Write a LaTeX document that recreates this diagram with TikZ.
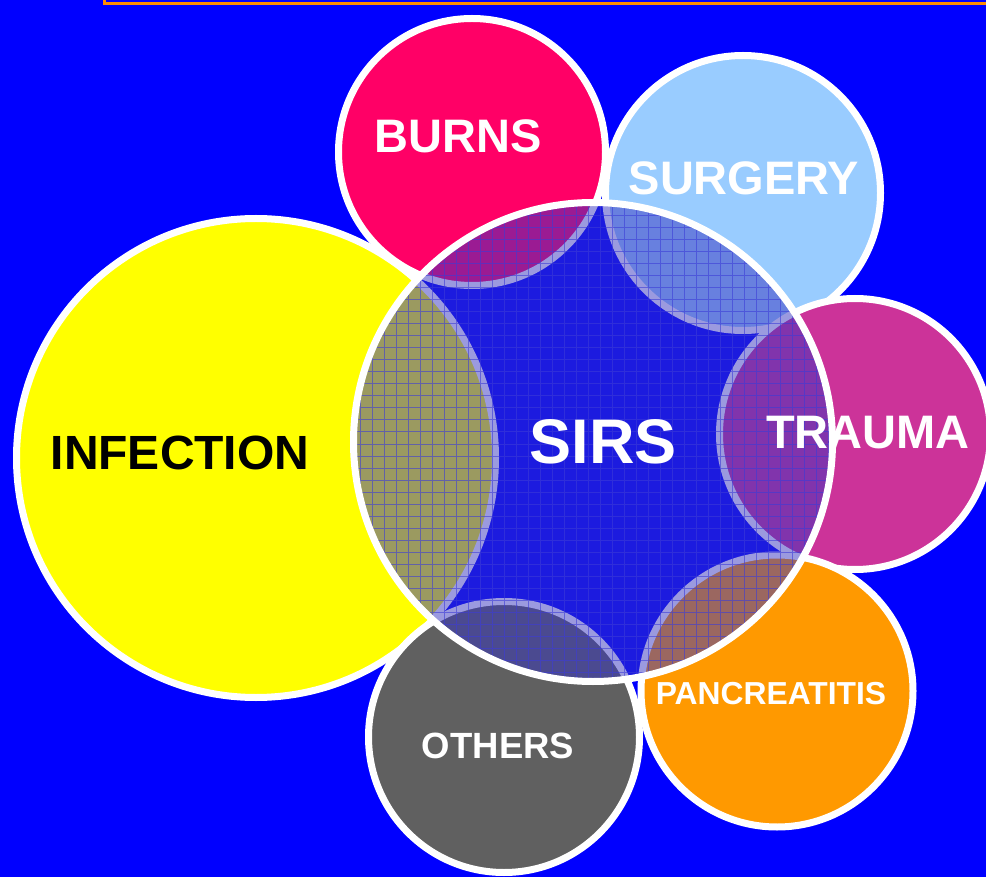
\documentclass[tikz,border=0pt]{standalone}
\usepackage{fontspec}
\setmainfont{Liberation Sans}
\definecolor{bgblue}{RGB}{0,0,255}
\definecolor{cinf}{RGB}{255,255,0}
\definecolor{cburn}{RGB}{255,0,102}
\definecolor{csurg}{RGB}{153,204,255}
\definecolor{ctrau}{RGB}{204,51,153}
\definecolor{cpanc}{RGB}{255,153,0}
\definecolor{coth}{RGB}{96,96,96}
\definecolor{csirs}{RGB}{56,54,192}
\definecolor{cgrid}{RGB}{60,60,215}
\definecolor{cbar}{RGB}{255,140,0}
\begin{document}
\begin{tikzpicture}[x=1pt,y=-1pt,
  ring/.style={draw=white,line width=7pt},
  disc/.style={circle,inner sep=0pt,ring},
  lbl/.style={inner sep=0pt,text=white,font=\bfseries},
]
\useasboundingbox (0,0) rectangle (986,877);
\clip (0,0) rectangle (986,877);
\fill[bgblue] (0,0) rectangle (986,877);
\draw[cbar,line width=3pt] (104,-20) rectangle (1000,3.5);

% outer circles
\node[disc,fill=cinf,minimum size=479pt] (inf) at (256,458) {};
\node[disc,fill=cburn,minimum size=267pt] (burn) at (472,152) {};
\node[disc,fill=csurg,minimum size=275pt] (surg) at (743,193) {};
\node[disc,fill=ctrau,minimum size=271pt] (trau) at (855,434) {};
\node[disc,fill=cpanc,minimum size=272pt] (panc) at (777,691) {};
\node[disc,fill=coth,minimum size=271pt] (oth) at (504,737) {};

% SIRS translucent circle
\node[circle,inner sep=0pt,minimum size=479pt,fill=csirs,fill opacity=0.5] (sirs) at (593,442) {};
\begin{scope}
  \clip (sirs.center) circle[radius=239.5pt];
  \draw[cgrid,line width=1pt,opacity=0.6,step=12pt] (340,190) grid (850,700);
\end{scope}
\draw[ring] (sirs.center) circle[radius=239.5pt];

% labels
\node[lbl,text=black,font=\bfseries\fontsize{48}{50}\selectfont] (tinf) at (180,453) {INFECTION};
\node[lbl,font=\bfseries\fontsize{63}{66}\selectfont] (tsirs) at (603,442) {SIRS};
\node[lbl,font=\bfseries\fontsize{47}{50}\selectfont] (tburn) at (458,136) {BURNS};
\node[lbl,font=\bfseries\fontsize{47}{50}\selectfont] (tsurg) at (744,178) {SURGERY};
\node[lbl,font=\bfseries\fontsize{47}{50}\selectfont] (ttrau) at (868,433) {TRAUMA};
\node[lbl,font=\bfseries\fontsize{36.5}{40}\selectfont] (toth) at (498,746) {OTHERS};
\node[lbl,font=\bfseries\fontsize{31.8}{34}\selectfont] (tpanc) at (771,694) {PANCREATITIS};
\end{tikzpicture}
\end{document}
